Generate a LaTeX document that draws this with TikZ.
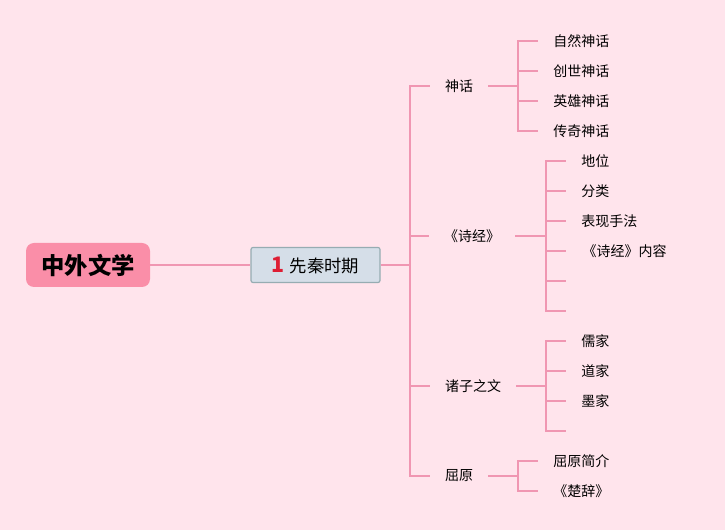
\documentclass[tikz,border=0pt]{standalone}
\usepackage{fontspec}
\setmainfont{Noto Sans CJK SC}
\usetikzlibrary{positioning}
\definecolor{bgpink}{RGB}{255,228,236}
\definecolor{linkpink}{RGB}{240,150,178}
\definecolor{rootpink}{RGB}{250,142,168}
\definecolor{boxblue}{RGB}{213,222,232}
\definecolor{boxedge}{RGB}{150,172,178}
\definecolor{numred}{RGB}{222,30,52}

\begin{document}
\begin{tikzpicture}[x=0.75pt, y=-0.75pt, every node/.style={font=\fontsize{10.5}{12}\selectfont}]
\tikzset{
  root/.style={rectangle, rounded corners=6pt, fill=rootpink, minimum width=93pt, minimum height=33pt, font=\fontsize{17.5}{20}\bfseries\selectfont},
  period/.style={rectangle, rounded corners=1.5pt, fill=boxblue, draw=boxedge, line width=0.9pt, minimum width=96.75pt, minimum height=26.25pt, font=\fontsize{13}{15}\selectfont},
  branch/.style={inner xsep=11.25pt, inner ysep=2pt},
  leaf/.style={anchor=west, inner xsep=11.25pt, inner ysep=2pt},
  link/.style={draw=linkpink, line width=1.6pt}
}

% background
\fill[bgpink] (0,0) rectangle (725,530);
\useasboundingbox (0,0) rectangle (725,530);

% root and period
\node (root) [root] at (88,265) {中外文学};
\node (xianqin) [period] at (315.5,265) {{\color{numred}\fontsize{16}{18}\bfseries 1}\hspace{4pt}先秦时期};
\coordinate (spine) at (410,265);

% second level
\node (shenhua) [branch] at (459,86) {神话};
\node (shijing) [branch] at (472,236) {《诗经》};
\node (zhuzi)   [branch] at (473,386) {诸子之文};
\node (quyuan)  [branch] at (459,476) {屈原};

% leaves: shenhua
\node (sh1) [leaf] at (538,41)  {自然神话};
\node (sh2) [leaf] at (538,71)  {创世神话};
\node (sh3) [leaf] at (538,101) {英雄神话};
\node (sh4) [leaf] at (538,131) {传奇神话};

% leaves: shijing
\node (sj1) [leaf] at (566,161) {地位};
\node (sj2) [leaf] at (566,191) {分类};
\node (sj3) [leaf] at (566,221) {表现手法};
\node (sj4) [leaf] at (566,251) {\hspace{1pt}《诗经》内容};
\coordinate (sj5) at (566,281);
\coordinate (sj6) at (566,311);

% leaves: zhuzi
\node (zz1) [leaf] at (566,341) {儒家};
\node (zz2) [leaf] at (566,371) {道家};
\node (zz3) [leaf] at (566,401) {墨家};
\coordinate (zz4) at (566,431);

% leaves: quyuan
\node (qy1) [leaf] at (538,461) {屈原简介};
\node (qy2) [leaf] at (538,491) {《楚辞》};

% connectors
\draw[link] (root.east) -- (xianqin.west);
\draw[link] (xianqin.east) -- (spine);
\foreach \b in {shenhua, shijing, zhuzi, quyuan}
  \draw[link] (spine) |- (\b.west);

\coordinate (shj) at (518,86);
\draw[link] (shenhua.east) -- (shj);
\foreach \l in {sh1, sh2, sh3, sh4}
  \draw[link] (shj) |- (\l.west);

\coordinate (sjj) at (546,236);
\draw[link] (shijing.east) -- (sjj);
\foreach \l in {sj1, sj2, sj3, sj4}
  \draw[link] (sjj) |- (\l.west);
\draw[link] (sjj) |- (sj5);
\draw[link] (sjj) |- (sj6);

\coordinate (zzj) at (546,386);
\draw[link] (zhuzi.east) -- (zzj);
\foreach \l in {zz1, zz2, zz3}
  \draw[link] (zzj) |- (\l.west);
\draw[link] (zzj) |- (zz4);

\coordinate (qyj) at (518,476);
\draw[link] (quyuan.east) -- (qyj);
\foreach \l in {qy1, qy2}
  \draw[link] (qyj) |- (\l.west);

\end{tikzpicture}
\end{document}
